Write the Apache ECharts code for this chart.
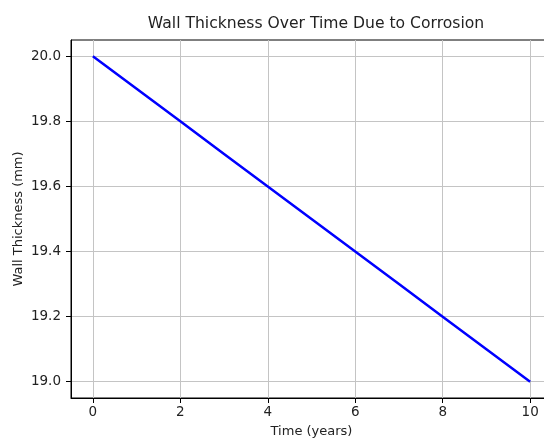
<!DOCTYPE html>
<html>
<head>
<meta charset="utf-8">
<script src="https://cdn.jsdelivr.net/npm/echarts@6/dist/echarts.min.js"></script>
<style>html,body{margin:0;padding:0;background:#fff;overflow:hidden;width:544px;height:438px;}#c{width:552px;height:438px;}</style>
</head>
<body>
<div id="c"></div>
<script>
const years = [0, 1, 2, 3, 4, 5, 6, 7, 8, 9, 10];
const thickness = [20.0, 19.9, 19.8, 19.7, 19.6, 19.5, 19.4, 19.3, 19.2, 19.1, 19.0];
const xTicks = [0, 2, 4, 6, 8, 10];
const yTicks = [19.0, 19.2, 19.4, 19.6, 19.8, 20.0];

const font = 'DejaVu Sans';
const chart = echarts.init(document.getElementById('c'), null, {renderer: 'canvas'});
chart.setOption({
  animation: false,
  backgroundColor: '#fff',
  title: {
    text: 'Wall Thickness Over Time Due to Corrosion',
    left: 311, top: 11, textAlign: 'center',
    textStyle: {fontFamily: font, fontSize: 15.6, fontWeight: 'normal', color: '#222'}
  },
  grid: {left: 71, top: 40, right: 0, bottom: 40, containLabel: false, outerBoundsMode: 'none',
    show: true, borderColor: '#000', borderWidth: 1, backgroundColor: 'transparent'},
  xAxis: {
    type: 'value', min: -0.5, max: 10.5,
    name: 'Time (years)', nameLocation: 'middle', nameGap: 27, nameMoveOverlap: false,
    nameTextStyle: {fontFamily: font, fontSize: 13, color: '#222'},
    axisLine: {show: true, onZero: false, lineStyle: {color: '#000', width: 1}},
    axisTick: {show: true, length: 5, customValues: xTicks, lineStyle: {color: '#000'}},
    axisLabel: {customValues: xTicks, margin: 7, fontFamily: font, fontSize: 13.5, color: '#222',
      formatter: v => String(v)},
    splitLine: {show: true, lineStyle: {color: '#c4c4c4', width: 1}}
  },
  yAxis: {
    type: 'value', min: 18.95, max: 20.05,
    name: 'Wall Thickness (mm)', nameLocation: 'middle', nameGap: 46, nameMoveOverlap: false,
    nameTextStyle: {fontFamily: font, fontSize: 13, color: '#222'},
    axisLine: {show: true, onZero: false, lineStyle: {color: '#000', width: 1}},
    axisTick: {show: true, length: 5, customValues: yTicks, lineStyle: {color: '#000'}},
    axisLabel: {customValues: yTicks, margin: 10, fontFamily: font, fontSize: 13.5, color: '#222',
      formatter: v => v.toFixed(1)},
    splitLine: {show: true, lineStyle: {color: '#c4c4c4', width: 1}}
  },
  series: [{
    type: 'line',
    data: years.map((t, i) => [t, thickness[i]]),
    showSymbol: false,
    lineStyle: {color: '#0000ff', width: 2.5},
    itemStyle: {color: '#0000ff'}
  }]
});
</script>
</body>
</html>
